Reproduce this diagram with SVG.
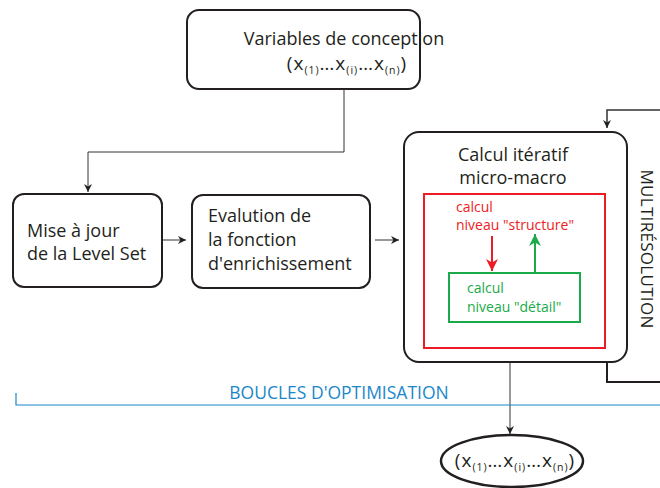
<svg xmlns="http://www.w3.org/2000/svg" width="660" height="488" viewBox="0 0 660 488">
<style>
text{font-family:"Open Sans","Liberation Sans",sans-serif;fill:#231f20}
.box{fill:#fff;stroke:#231f20;stroke-width:2}
.t{font-size:18px}
.x{font-size:19px;letter-spacing:1px}
.c{stroke:#333;stroke-width:1;fill:none}
.sub{font-size:10.5px}
.red{fill:#ed1c24;font-size:14px}
.grn{fill:#1aaa4a;font-size:14px}
</style>
<defs>
<marker id="a" viewBox="0 0 10 10" refX="10" refY="5" markerWidth="8" markerHeight="8" markerUnits="userSpaceOnUse" orient="auto"><path d="M0,0 L10,5 L0,10 L3,5 z" fill="#231f20"/></marker>
<marker id="ar" viewBox="0 0 10 10" refX="10" refY="5" markerWidth="12" markerHeight="12" markerUnits="userSpaceOnUse" orient="auto"><path d="M0,0 L10,5 L0,10 L3,5 z" fill="#ed1c24"/></marker>
<marker id="ag" viewBox="0 0 10 10" refX="10" refY="5" markerWidth="12" markerHeight="12" markerUnits="userSpaceOnUse" orient="auto"><path d="M0,0 L10,5 L0,10 L3,5 z" fill="#1aaa4a"/></marker>
</defs>

<g id="variables">
<rect class="box" x="187" y="10" width="233" height="79" rx="12"/>
<text class="t" x="344" y="45" text-anchor="middle">Variables de conception</text>
<text class="x" x="347" y="70" text-anchor="middle">(x<tspan class="sub" dy="4">(1)</tspan><tspan dy="-4">…x</tspan><tspan class="sub" dy="4">(i)</tspan><tspan dy="-4">…x</tspan><tspan class="sub" dy="4">(n)</tspan><tspan dy="-4">)</tspan></text>
</g>

<g id="levelset">
<rect class="box" x="13" y="194" width="149" height="93" rx="11"/>
<text class="t" x="27" y="237">Mise à jour</text>
<text class="t" x="27" y="260">de la Level Set</text>
</g>

<g id="evaluation">
<rect class="box" x="192" y="195" width="178" height="93" rx="11"/>
<text class="t" x="208" y="222">Evalution de</text>
<text class="t" x="208" y="246">la fonction</text>
<text class="t" x="208" y="270">d'enrichissement</text>
</g>

<g id="calcul">
<rect class="box" x="404" y="132" width="223" height="230" rx="15"/>
<text class="t" x="513" y="161" text-anchor="middle">Calcul itératif</text>
<text class="t" x="513" y="184" text-anchor="middle">micro-macro</text>
<rect x="424" y="194" width="181" height="154" fill="none" stroke="#ed1c24" stroke-width="2"/>
<text class="red" x="456" y="212">calcul</text>
<text class="red" x="456" y="230">niveau "structure"</text>
</g>

<g id="detail">
<rect x="449" y="273" width="131" height="49" fill="#fff" stroke="#1aaa4a" stroke-width="2"/>
<text class="grn" x="467" y="293">calcul</text>
<text class="grn" x="467" y="312">niveau "détail"</text>
</g>

<g id="multiresolution">
<text transform="translate(641,249) rotate(90)" text-anchor="middle" font-size="17" letter-spacing="0.3">MULTIRÉSOLUTION</text>
</g>

<g id="boucles">
<text x="339" y="399" text-anchor="middle" font-size="17.5" style="fill:#1b87c9">BOUCLES D'OPTIMISATION</text>
</g>

<g id="resultat">
<ellipse cx="512" cy="461" rx="71" ry="26" fill="#fff" stroke="#231f20" stroke-width="2.5"/>
<text class="x" x="515" y="467" text-anchor="middle">(x<tspan class="sub" dy="4">(1)</tspan><tspan dy="-4">…x</tspan><tspan class="sub" dy="4">(i)</tspan><tspan dy="-4">…x</tspan><tspan class="sub" dy="4">(n)</tspan><tspan dy="-4">)</tspan></text>
</g>

<g id="connectors">
<path class="c" d="M344,89 V152 H88 V192" marker-end="url(#a)"/>
<path class="c" d="M163,240 H186" marker-end="url(#a)"/>
<path class="c" d="M375,240 H399" marker-end="url(#a)"/>
<path class="c" d="M510,363 V434" marker-end="url(#a)"/>
<path d="M607,362 V382 H660" fill="none" stroke="#231f20" stroke-width="2"/>
<path class="c" d="M660,110 H607 V128" marker-end="url(#a)" style="stroke-width:1.5"/>
<path d="M492,236 V271" stroke="#ed1c24" stroke-width="2" marker-end="url(#ar)"/>
<path d="M535,273 V234" stroke="#1aaa4a" stroke-width="2" marker-end="url(#ag)"/>
<path d="M16,393 V405 H660" fill="none" stroke="#1b87c9" stroke-width="1.2"/>
</g>
</svg>
